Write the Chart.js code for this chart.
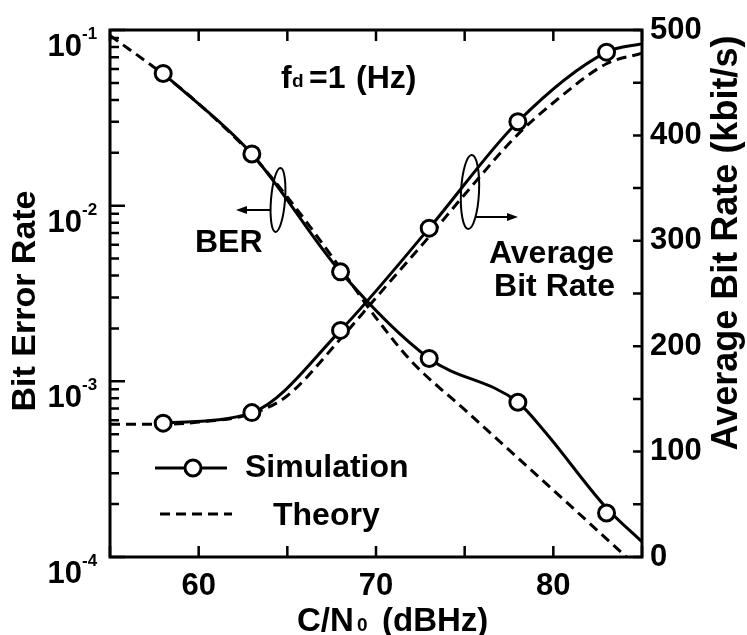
<!DOCTYPE html>
<html lang="en">
<head>
    <meta charset="UTF-8">
    <title>BER and Average Bit Rate vs C/N0</title>
    <script src="https://cdn.jsdelivr.net/npm/chart.js"></script>
    <style>
        html, body { margin: 0; padding: 0; background: #fff; }
        #wrap { width: 747px; height: 635px; }
    </style>
</head>
<body>
    <div id="wrap"><canvas id="berChart" width="747" height="635"></canvas></div>

    <script>
        // C/N0 (dBHz) where the simulation was run
        const simX = [58, 63, 68, 73, 78, 83];
        const simBer = [0.0566, 0.0197, 0.0042, 0.00135, 0.00076, 0.000178];
        const simRate = [127, 137, 215, 312, 413, 479];

        // smooth simulation curves
        const simBerCurveX = [58, 63, 68, 73, 78, 79.5, 83, 85];
        const simBerCurve = [0.0566, 0.0197, 0.0042, 0.00135, 0.00076, 0.00052, 0.00019, 0.000122];
        const simRateCurveX = [58, 63, 68, 73, 78, 83, 85];
        const simRateCurve = [127, 137, 215, 312, 413, 479, 487];

        // theory
        const theoryBerX = [55, 58, 60, 63, 65, 68, 70, 72, 75, 80, 85];
        const theoryBer = [0.093, 0.056, 0.038, 0.0195, 0.0112, 0.0044, 0.0023, 0.0013, 0.00069, 0.00024, 0.000083];
        const theoryRateX = [55, 58, 60, 63, 65, 68, 70, 73, 75, 78, 80, 83, 85];
        const theoryRate = [126, 126, 128, 136, 153, 207, 246, 304, 344, 401, 431, 468, 478];

        // axes
        const xTicks = [55, 60, 65, 70, 75, 80, 85];
        const xLabels = [60, 70, 80];
        const berDecades = [1e-4, 1e-3, 1e-2, 1e-1];
        const berExponents = ['-4', '-3', '-2', '-1'];
        const rateTicks = [0, 50, 100, 150, 200, 250, 300, 350, 400, 450, 500];

        const FONT = "'Liberation Sans', Arial, Helvetica, sans-serif";

        const pts = (xs, ys) => xs.map((x, i) => ({ x: x, y: ys[i] }));

        function ellipse(ctx, cx, cy, rx, ry, rot) {
            ctx.beginPath();
            ctx.ellipse(cx, cy, rx, ry, rot, 0, Math.PI * 2);
            ctx.stroke();
        }

        function arrow(ctx, x1, y, x2) {
            const dir = Math.sign(x2 - x1);
            ctx.beginPath();
            ctx.moveTo(x1, y);
            ctx.lineTo(x2 - dir * 8, y);
            ctx.stroke();
            ctx.beginPath();
            ctx.moveTo(x2, y);
            ctx.lineTo(x2 - dir * 11, y - 4);
            ctx.lineTo(x2 - dir * 11, y + 4);
            ctx.closePath();
            ctx.fill();
        }

        // frame, inward ticks, log labels, titles, legend and notes
        const decorations = {
            id: 'decorations',
            afterDatasetsDraw(chart) {
                const ctx = chart.ctx;
                const a = chart.chartArea;
                const xs = chart.scales.x, yl = chart.scales.y, yr = chart.scales.y2;
                ctx.save();
                ctx.strokeStyle = '#000';
                ctx.fillStyle = '#000';

                // frame
                ctx.lineWidth = 3;
                ctx.strokeRect(a.left, a.top, a.right - a.left, a.bottom - a.top);

                // tick marks
                ctx.lineWidth = 2.5;
                ctx.beginPath();
                xTicks.forEach(v => {
                    const px = xs.getPixelForValue(v);
                    ctx.moveTo(px, a.bottom); ctx.lineTo(px, a.bottom - 11);
                    ctx.moveTo(px, a.top); ctx.lineTo(px, a.top + 11);
                });
                berDecades.forEach(d => {
                    for (let k = 1; k <= 9; k++) {
                        const v = d * k;
                        if (v > 0.1001) break;
                        const py = yl.getPixelForValue(v);
                        ctx.moveTo(a.left, py);
                        ctx.lineTo(a.left + (k === 1 ? 15 : 9), py);
                    }
                });
                rateTicks.forEach(v => {
                    const py = yr.getPixelForValue(v);
                    ctx.moveTo(a.right, py); ctx.lineTo(a.right - 9, py);
                });
                ctx.stroke();

                // left tick labels 10^n
                ctx.textBaseline = 'alphabetic';
                berDecades.forEach((d, i) => {
                    const py = yl.getPixelForValue(d);
                    ctx.font = 'bold 31px ' + FONT;
                    ctx.textAlign = 'right';
                    ctx.fillText('10', 82, py + 26);
                    ctx.font = 'bold 17px ' + FONT;
                    ctx.textAlign = 'left';
                    ctx.fillText(berExponents[i], 82, py + 9);
                });

                // x title with subscript
                ctx.textAlign = 'left';
                ctx.font = 'bold 33px ' + FONT;
                ctx.fillText('C/N', 297, 631);
                ctx.font = 'bold 19px ' + FONT;
                ctx.fillText('0', 357, 631);
                ctx.font = 'bold 33px ' + FONT;
                ctx.fillText('(dBHz)', 382, 631);

                // y titles
                ctx.font = 'bold 34px ' + FONT;
                ctx.textAlign = 'center';
                ctx.save();
                ctx.translate(35, 301);
                ctx.rotate(-Math.PI / 2);
                ctx.fillText('Bit Error Rate', 0, 0);
                ctx.restore();
                ctx.font = 'bold 36px ' + FONT;
                ctx.save();
                ctx.translate(737, 243);
                ctx.rotate(-Math.PI / 2);
                ctx.fillText('Average Bit Rate (kbit/s)', 0, 0);
                ctx.restore();

                // fd = 1 (Hz)
                ctx.textAlign = 'left';
                ctx.font = 'bold 32px ' + FONT;
                ctx.fillText('f', 281, 88);
                ctx.font = 'bold 19px ' + FONT;
                ctx.fillText('d', 292, 87);
                ctx.font = 'bold 32px ' + FONT;
                ctx.fillText('=1', 309, 88);
                ctx.fillText('(Hz)', 356, 88);

                // BER note
                ctx.fillText('BER', 195, 252);
                ctx.lineWidth = 2;
                ellipse(ctx, 278, 200, 7, 32, 0.08);
                arrow(ctx, 271, 210, 236);

                // Average Bit Rate note
                ctx.textAlign = 'right';
                ctx.fillText('Average', 614, 263);
                ctx.fillText('Bit Rate', 615, 296);
                ellipse(ctx, 470, 192, 9, 37, 0.05);
                arrow(ctx, 476, 217, 518);

                // legend
                ctx.textAlign = 'left';
                ctx.lineWidth = 3;
                ctx.beginPath();
                ctx.moveTo(155, 468); ctx.lineTo(227, 468);
                ctx.stroke();
                ctx.beginPath();
                ctx.arc(193, 468, 8, 0, Math.PI * 2);
                ctx.fillStyle = '#fff';
                ctx.fill();
                ctx.stroke();
                ctx.fillStyle = '#000';
                ctx.fillText('Simulation', 245, 477);
                ctx.lineWidth = 3;
                ctx.setLineDash([10, 6]);
                ctx.beginPath();
                ctx.moveTo(160, 514); ctx.lineTo(232, 514);
                ctx.stroke();
                ctx.setLineDash([]);
                ctx.fillText('Theory', 273, 525);

                ctx.restore();
            }
        };

        const solid = { borderColor: '#000', borderWidth: 3, pointRadius: 0, fill: false, cubicInterpolationMode: 'monotone', order: 1 };
        const dashed = { borderColor: '#000', borderWidth: 3, borderDash: [10, 6], pointRadius: 0, fill: false, cubicInterpolationMode: 'monotone', order: 2 };
        const marks = { showLine: false, pointRadius: 8, pointBorderWidth: 3, pointBackgroundColor: '#fff', pointBorderColor: '#000', borderColor: '#000', order: 0 };

        new Chart(document.getElementById('berChart'), {
            type: 'line',
            data: {
                datasets: [
                    Object.assign({ label: 'BER simulation', data: pts(simX, simBer), yAxisID: 'y' }, marks),
                    Object.assign({ label: 'Rate simulation', data: pts(simX, simRate), yAxisID: 'y2' }, marks),
                    Object.assign({ label: 'BER sim curve', data: pts(simBerCurveX, simBerCurve), yAxisID: 'y' }, solid),
                    Object.assign({ label: 'Rate sim curve', data: pts(simRateCurveX, simRateCurve), yAxisID: 'y2' }, solid),
                    Object.assign({ label: 'BER theory', data: pts(theoryBerX, theoryBer), yAxisID: 'y' }, dashed),
                    Object.assign({ label: 'Rate theory', data: pts(theoryRateX, theoryRate), yAxisID: 'y2' }, dashed)
                ]
            },
            options: {
                responsive: false,
                animation: false,
                devicePixelRatio: 1,
                layout: { padding: { top: 30, left: 0, right: 0, bottom: 0 } },
                plugins: { legend: { display: false }, tooltip: { enabled: false } },
                scales: {
                    x: {
                        type: 'linear', min: 55, max: 85,
                        grid: { display: false, drawTicks: false },
                        border: { display: false },
                        afterBuildTicks: s => { s.ticks = xTicks.map(v => ({ value: v })); },
                        afterFit: s => { s.height = 78; },
                        ticks: {
                            autoSkip: false, maxRotation: 0, padding: 11, color: '#000',
                            font: { family: FONT, size: 31, weight: 'bold' },
                            callback: v => xLabels.includes(v) ? String(v) : ''
                        }
                    },
                    y: {
                        type: 'logarithmic', position: 'left', min: 1e-4, max: 1e-1,
                        grid: { display: false, drawTicks: false },
                        border: { display: false },
                        ticks: { display: false },
                        afterFit: s => { s.width = 110; }
                    },
                    y2: {
                        type: 'linear', position: 'right', min: 0, max: 500,
                        grid: { display: false, drawTicks: false },
                        border: { display: false },
                        afterFit: s => { s.width = 105; },
                        ticks: {
                            stepSize: 100, padding: 8, color: '#000',
                            font: { family: FONT, size: 31, weight: 'bold' }
                        }
                    }
                }
            },
            plugins: [decorations]
        });
    </script>
</body>
</html>
